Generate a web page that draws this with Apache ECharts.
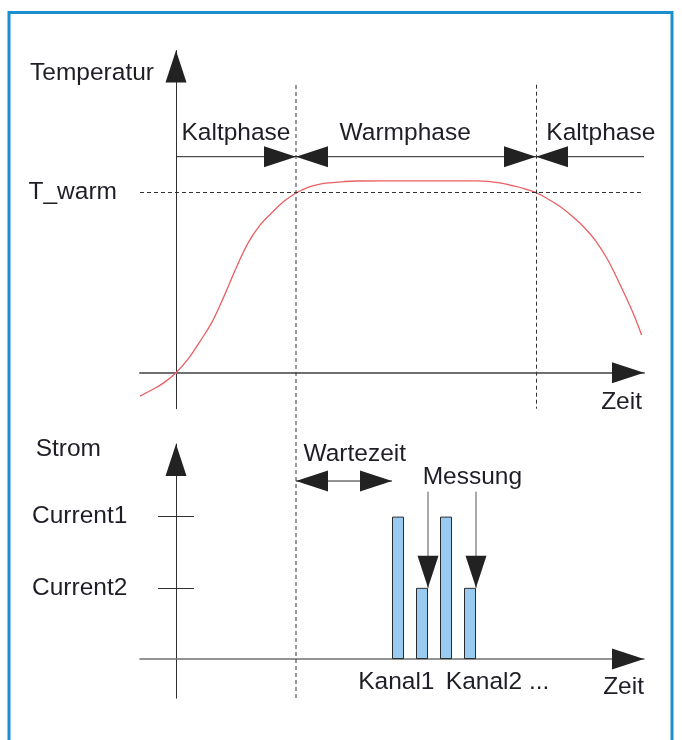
<!DOCTYPE html>
<html>
<head>
<meta charset="utf-8">
<script src="https://cdn.jsdelivr.net/npm/echarts@6/dist/echarts.min.js"></script>
<style>
html,body{margin:0;padding:0;background:#ffffff;}
#chart{width:682px;height:740px;}
</style>
</head>
<body>
<div id="chart"></div>
<script>
// ---------------- data (time units; T_warm = 100) ----------------
const tempTime  = [-3, -2, -1, 0, 1, 2, 3, 4, 5, 6, 7, 8, 9, 10, 11, 12, 13, 14, 15, 20, 25, 26, 27, 28, 29, 30, 31, 32, 33, 34, 35, 36, 37, 38, 38.8];
const tempValue = [-13, -9.5, -5.5, 0, 7.5, 17.4, 28.1, 42.4, 58, 72, 82, 89, 95.2, 99.8, 103, 104.8, 105.6, 106.2, 106.5, 106.6, 106.6, 106.3, 105.4, 104, 102.3, 100, 96.5, 92.3, 87, 80.8, 73, 62.5, 49, 34.5, 21];
const tWarm = 100;
const phaseBounds = [10, 30];
const phaseNames = ['Kaltphase', 'Warmphase', 'Kaltphase'];
const barTime  = [18.5, 20.5, 22.5, 24.5];
const barValue = [2, 1, 2, 1];
const currentLevels = [2, 1];
const currentLabels = ['Current1', 'Current2'];
const waitWindow = [10, 18];
const measureTimes = [21, 25];
const measureLevel = 1;
const channelLabels = ['Kanal1', 'Kanal2 ...'];

// ---------------- layout helpers ----------------
const FONT = "'Liberation Sans', Arial, sans-serif";
const FS = 24.5;
const TXT = '#1e1e26';
const X_MIN = -3, X_MAX = 39;
const T_MIN = -20, T_MAX = 179;
const I_MIN = -0.55, I_MAX = 3.02;
const phaseY = 120, phaseLabelY = 133, phaseLabelT = [5, 19.1, 35.4];
const guideTop = 160;
const waitY = 2.5, waitLabel = [14.9, 2.88];
const measureTop = 2.35, measureLabel = [24.7, 2.556];
const channelLabelT = [18.36, 26.8], channelLabelY = -0.32;
const HEAD_LEN = 32, HEAD_W = 21;
const DIRS = [[1,0],[-1,0],[0,-1],[0,1]]; // right, left, up, down

function segRender(color, width, dash) {
  return function (params, api) {
    const p1 = api.coord([api.value(0), api.value(1)]);
    const p2 = api.coord([api.value(2), api.value(3)]);
    return {type:'line', shape:{x1:p1[0], y1:p1[1], x2:p2[0], y2:p2[1]},
      style:{stroke:color, lineWidth:width, lineDash: dash || null}};
  };
}
function headRender(params, api) {
  const tip = api.coord([api.value(0), api.value(1)]);
  const d = DIRS[api.value(2)];
  const bx = tip[0] - d[0]*HEAD_LEN, by = tip[1] - d[1]*HEAD_LEN;
  const nx = -d[1]*HEAD_W/2, ny = d[0]*HEAD_W/2;
  return {type:'polygon', shape:{points:[[tip[0],tip[1]],[bx+nx,by+ny],[bx-nx,by-ny]]},
    style:{fill:'#222222'}};
}
function textRender(texts) {
  return function (params, api) {
    const p = api.coord([api.value(0), api.value(1)]);
    return {type:'text', x:p[0], y:p[1],
      style:{text: texts[params.dataIndex], fontSize:FS, fontFamily:FONT, fill:TXT, align:'center', verticalAlign:'middle'}};
  };
}

const gridBase = {left:140, right:38, containLabel:false, outerBoundsMode:'none'};

const option = {
  animation: false,
  backgroundColor: '#ffffff',
  graphic: [{type:'rect', shape:{x:9, y:12.5, width:663, height:800},
    style:{fill:'none', stroke:'#1b8fce', lineWidth:3}, silent:true}],
  grid: [
    Object.assign({top:50.5, bottom:331.3}, gridBase),
    Object.assign({top:444, bottom:41.8}, gridBase),
    Object.assign({top:85, bottom:42}, gridBase)
  ],
  xAxis: [
    {type:'value', gridIndex:0, min:X_MIN, max:X_MAX,
      name:'Zeit', nameLocation:'end', nameGap:-2,
      nameTextStyle:{fontSize:FS, fontFamily:FONT, color:TXT, align:'right', verticalAlign:'top', padding:[17,0,0,0]},
      axisLine:{onZero:true, lineStyle:{color:'#707070', width:2}},
      axisTick:{show:false}, axisLabel:{show:false}, splitLine:{show:false}},
    {type:'value', gridIndex:1, min:X_MIN, max:X_MAX,
      name:'Zeit', nameLocation:'end', nameGap:0,
      nameTextStyle:{fontSize:FS, fontFamily:FONT, color:TXT, align:'right', verticalAlign:'top', padding:[16,0,0,0]},
      axisLine:{onZero:true, lineStyle:{color:'#707070', width:1.6}},
      axisTick:{show:false}, axisLabel:{show:false}, splitLine:{show:false}},
    {type:'value', gridIndex:2, min:X_MIN, max:X_MAX, show:false}
  ],
  yAxis: [
    {type:'value', gridIndex:0, min:T_MIN, max:T_MAX,
      name:'Temperatur', nameLocation:'end', nameGap:-22.5,
      nameTextStyle:{fontSize:FS, fontFamily:FONT, color:TXT, align:'right', verticalAlign:'middle', padding:[0,22,0,0]},
      axisLine:{onZero:true, lineStyle:{color:'#303030', width:1}},
      axisTick:{show:false}, splitLine:{show:false},
      axisLabel:{customValues:[tWarm], formatter:()=> 'T_warm', align:'left', margin:111.5,
        fontSize:FS, fontFamily:FONT, color:TXT, verticalAlign:'middle', padding:[0,0,10,0]}},
    {type:'value', gridIndex:1, min:I_MIN, max:I_MAX,
      name:'Strom', nameLocation:'end', nameGap:-5,
      nameTextStyle:{fontSize:FS, fontFamily:FONT, color:TXT, align:'right', verticalAlign:'middle', padding:[0,75,0,0]},
      axisLine:{onZero:true, lineStyle:{color:'#303030', width:1}},
      axisTick:{show:false}, splitLine:{show:false},
      axisLabel:{customValues:currentLevels, formatter:(v)=> currentLabels[currentLevels.indexOf(v)],
        align:'left', margin:108, fontSize:FS, fontFamily:FONT, color:TXT, verticalAlign:'middle', padding:[0,0,10,0]}},
    {type:'value', gridIndex:2, min:0, max:1, show:false}
  ],
  series: [
    // --- top: temperature curve ---
    {type:'line', name:'Temperatur', xAxisIndex:0, yAxisIndex:0, smooth:0.4,
      showSymbol:false, lineStyle:{color:'#ea5f63', width:1.3}, z:3,
      data: tempTime.map((t,i)=>[t, tempValue[i]]),
      markLine:{silent:true, symbol:['none','none'], label:{show:false},
        lineStyle:{color:'#333', width:1, type:[4,3]},
        data:[
          [{coord:[X_MIN, tWarm]}, {coord:[X_MAX, tWarm]}],
          [{coord:[phaseBounds[1], guideTop]}, {coord:[phaseBounds[1], T_MIN]}]
        ]}},
    {type:'custom', name:'Phasen', xAxisIndex:0, yAxisIndex:0, encode:{x:[0,2], y:[1,3]},
      renderItem: segRender('#222', 1), data:[[0, phaseY, X_MAX, phaseY]]},
    {type:'custom', name:'Pfeile oben', xAxisIndex:0, yAxisIndex:0, encode:{x:0, y:1}, z:5,
      renderItem: headRender,
      data:[[phaseBounds[0], phaseY, 0], [phaseBounds[0], phaseY, 1],
            [phaseBounds[1], phaseY, 0], [phaseBounds[1], phaseY, 1],
            [X_MAX, 0, 0], [0, T_MAX, 2]]},
    {type:'custom', name:'Phasennamen', xAxisIndex:0, yAxisIndex:0, encode:{x:0, y:1},
      renderItem: textRender(phaseNames), data: phaseLabelT.map(t=>[t, phaseLabelY])},
    // --- bottom: current pulses ---
    {type:'bar', name:'Strom', xAxisIndex:1, yAxisIndex:1, barWidth:12, z:3,
      itemStyle:{color:'#98cbef', borderColor:'#2a2a2a', borderWidth:1},
      data: barTime.map((t,i)=>[t, barValue[i]]),
      markLine:{silent:true, symbol:['none','none'], label:{show:false},
        lineStyle:{color:'#303030', width:1, type:'solid'},
        data: currentLevels.map(v=>[{coord:[-1.5, v]}, {coord:[1.5, v]}])}},
    {type:'custom', name:'Linien unten', xAxisIndex:1, yAxisIndex:1, encode:{x:[0,2], y:[1,3]},
      renderItem: function(params, api){
        return segRender(params.dataIndex === 0 ? '#222' : '#555', 1)(params, api);
      },
      data:[[waitWindow[0], waitY, waitWindow[1], waitY]].concat(measureTimes.map(t=>[t, measureTop, t, measureLevel]))},
    {type:'custom', name:'Pfeile unten', xAxisIndex:1, yAxisIndex:1, encode:{x:0, y:1}, z:5,
      renderItem: headRender,
      data:[[waitWindow[0], waitY, 1], [waitWindow[1], waitY, 0]]
        .concat(measureTimes.map(t=>[t, measureLevel, 3]))
        .concat([[X_MAX, 0, 0], [0, I_MAX, 2]])},
    {type:'custom', name:'Beschriftung unten', xAxisIndex:1, yAxisIndex:1, encode:{x:0, y:1},
      renderItem: textRender(['Wartezeit', 'Messung'].concat(channelLabels)),
      data:[waitLabel, measureLabel].concat(channelLabelT.map(t=>[t, channelLabelY]))},
    // --- overlay: start of warm phase guide through both panels ---
    {type:'custom', name:'Grenze', xAxisIndex:2, yAxisIndex:2, encode:{x:[0,2], y:[1,3]},
      renderItem: segRender('#333', 1, [4,3]), data:[[phaseBounds[0], 1, phaseBounds[0], 0]]}
  ]
};

const chart = echarts.init(document.getElementById('chart'), null, {renderer:'canvas'});
chart.setOption(option);
</script>
</body>
</html>
